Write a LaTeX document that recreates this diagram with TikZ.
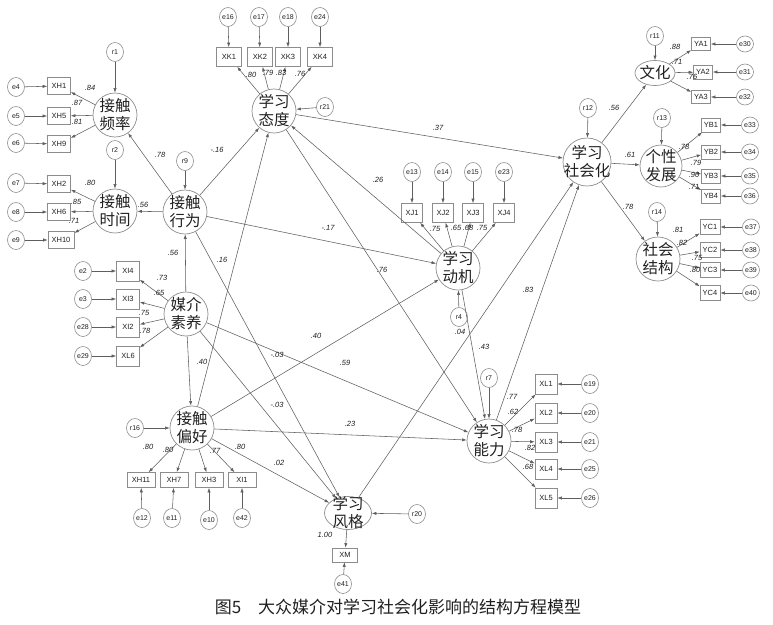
\documentclass[tikz,border=0pt]{standalone}
\usepackage{fontspec}
\setmainfont{Liberation Sans}
\newfontfamily\cjk{Noto Sans CJK SC}
\usetikzlibrary{arrows.meta,shapes.geometric}
\definecolor{ln}{HTML}{5E5E5E}
\definecolor{bd}{HTML}{8C8C8C}
\definecolor{tx}{HTML}{202020}
\begin{document}
\begin{tikzpicture}[x=1pt,y=-1pt,
  lat/.style={circle,draw=bd,line width=0.7pt,minimum size=44pt,inner sep=0pt},
  ltxt/.style={font=\cjk\fontsize{15.5}{18}\selectfont,align=center,text=tx,inner sep=0pt},
  err/.style={ellipse,draw=bd,line width=0.6pt,minimum width=17pt,minimum height=19pt,inner sep=0pt,font=\fontsize{7}{8}\selectfont,text=tx},
  errs/.style={err,minimum height=16pt},
  obs/.style={rectangle,draw=bd,line width=0.6pt,inner sep=0pt,font=\fontsize{7.5}{8}\selectfont,text=tx},
  arr/.style={draw=ln,line width=0.55pt,-{Latex[length=4.5pt,width=3.2pt]}},
  coef/.style={font=\itshape\fontsize{7.5}{8}\selectfont,text=tx,inner sep=0pt}]
\useasboundingbox (0,0) rectangle (773,624);

% latent variables
\node[lat,label={[ltxt]center:接触\\频率}] (pf) at (115,115) {};
\node[lat,label={[ltxt]center:接触\\时间}] (pt) at (115,211) {};
\node[lat,label={[ltxt]center:接触\\行为}] (pb) at (185,212) {};
\node[lat,label={[ltxt]center:媒介\\素养}] (ml) at (186,314) {};
\node[lat,label={[ltxt]center:接触\\偏好}] (pp) at (192,428) {};
\node[lat,label={[ltxt]center:学习\\态度}] (la) at (274,111) {};
\node[lat,label={[ltxt]center:学习\\动机}] (lm) at (458,268) {};
\node[lat,minimum size=48pt,label={[ltxt]center:学习\\社会化}] (ls) at (587,162) {};
\node[ellipse,draw=bd,line width=0.7pt,minimum width=40pt,minimum height=25pt,inner sep=0pt,label={[ltxt]center:文化}] (cu) at (655,73) {};
\node[lat,minimum size=42pt,label={[ltxt]center:个性\\发展}] (pd) at (661,166) {};
\node[lat,label={[ltxt]center:社会\\结构}] (ss) at (658,259) {};
\node[lat,label={[ltxt]center:学习\\能力}] (ab) at (489,441) {};
\node[ellipse,draw=bd,line width=0.7pt,minimum width=47pt,minimum height=33pt,inner sep=0pt,label={[ltxt]center:学习\\风格}] (st) at (348,513) {};

% error terms
\foreach \n/\x/\y in {e4/16/87,e5/16/116,e6/16/143,e7/16/183,e8/16/212,e9/16/240,
 e2/83/271,e3/83/299,e28/83/327,e29/83/356,
 e12/142/518,e11/172/518,e10/209/520,e42/242/518,
 e16/228/17,e17/259/17,e18/288/17,e24/320/17,
 e13/412/172,e14/443/172,e15/473/172,e23/504/172,
 e19/590/384,e20/590/413,e21/590/442,e25/590/469,e26/590/498,
 e41/343/584,
 r1/115/52,r2/115/150,r9/185/161,r21/325/107,r4/459/317,r7/489/378,
 r12/588/108,r11/655/36,r13/662/118,r14/657/212,r16/135/428,r20/417/514}
 {\node[err] (\n) at (\x,\y) {\n};}
\foreach \n/\x/\y in {e30/745/44,e31/745/72,e32/745/97,
 e33/750/125,e34/750/152,e35/750/176,e36/750/196,
 e37/751/227,e38/751/250,e39/751/270,e40/751/293}
 {\node[errs] (\n) at (\x,\y) {\n};}

% observed indicators
\foreach \n/\x/\y/\w/\h in {XH1/59/86/23/17,XH5/59/116/23/17,XH9/59/144/23/17,
 XH2/59/184/23/17,XH6/59/212/23/17,XH10/61/240/26/17,
 XI4/128/271/23/20,XI3/128/299/23/20,XI2/128/327/23/20,XL6/128/356/23/20,
 XH11/141/480/28/15,XH7/174/480/28/15,XH3/209/480/28/15,XI1/242/480/28/15,
 XK1/229/57/25/19,XK2/260/57/25/19,XK3/288/57/25/19,XK4/320/57/25/19,
 XJ1/412/213/21/19,XJ2/443/213/21/19,XJ3/473/213/21/19,XJ4/504/213/21/19,
 YA1/701/44/19/13,YA2/703/72/19/14,YA3/701/97/19/13,
 YB1/711/125/19/14,YB2/711/152/19/14,YB3/711/176/19/14,YB4/711/196/19/14,
 YC1/710/227/20/15,YC2/710/250/20/15,YC3/710/270/20/15,YC4/710/293/20/15,
 XL1/546/384/22/20,XL2/546/413/22/20,XL3/546/442/22/20,XL4/546/469/22/20,XL5/546/498/22/20,
 XM/345/555/25/14}
 {\node[obs,minimum width=\w pt,minimum height=\h pt] (\n) at (\x,\y) {\n};}

% error -> indicator, residual -> latent
\foreach \a/\b in {e4/XH1,e5/XH5,e6/XH9,e7/XH2,e8/XH6,e9/XH10,
 e2/XI4,e3/XI3,e28/XI2,e29/XL6,e12/XH11,e11/XH7,e10/XH3,e42/XI1,
 e16/XK1,e17/XK2,e18/XK3,e24/XK4,e13/XJ1,e14/XJ2,e15/XJ3,e23/XJ4,
 e30/YA1,e31/YA2,e32/YA3,e33/YB1,e34/YB2,e35/YB3,e36/YB4,
 e37/YC1,e38/YC2,e39/YC3,e40/YC4,e19/XL1,e20/XL2,e21/XL3,e25/XL4,e26/XL5,e41/XM,
 r1/pf,r2/pt,r9/pb,r21/la,r4/lm,r7/ab,r12/ls,r11/cu,r13/pd,r14/ss,r16/pp,r20/st}
 {\draw[arr] (\a) -- (\b);}

% loadings
\foreach \a/\b in {pf/XH1,pf/XH5,pf/XH9,pt/XH2,pt/XH6,pt/XH10,
 ml/XI4,ml/XI3,ml/XI2,ml/XL6,pp/XH11,pp/XH7,pp/XH3,pp/XI1,
 la/XK1,la/XK2,la/XK3,la/XK4,lm/XJ1,lm/XJ2,lm/XJ3,lm/XJ4,
 cu/YA1,cu/YA2,cu/YA3,pd/YB1,pd/YB2,pd/YB3,pd/YB4,
 ss/YC1,ss/YC2,ss/YC3,ss/YC4,ab/XL1,ab/XL2,ab/XL3,ab/XL4,ab/XL5,st/XM}
 {\draw[arr] (\a) -- (\b);}

% structural paths
\foreach \a/\b in {pb/pf,pb/pt,ml/pb,pb/la,pb/lm,pb/st,ml/st,ml/pp,ml/ab,
 pp/la,pp/lm,pp/ab,pp/st,la/ls,la/ab,lm/la,lm/ab,ab/ls,st/ls,ls/cu,ls/pd,ls/ss}
 {\draw[arr] (\a) -- (\b);}

% coefficients
\foreach \t/\x/\y [count=\i] in {.84/90/88,.87/77/103,.81/77/122,.80/90/183,.85/76/202,.71/74/221,
 .78/160/155,.56/143/205,.56/173/253,-.16/217/150,.16/222/260,
 .73/162/278,.65/159/293,.75/144/313,.78/145/331,.40/202/362,
 -.03/277/355,-.03/277/405,.40/316/336,.59/345/363,.23/350/424,.02/279/463,
 .80/148/447,.80/168/450,.77/215/451,.80/240/447,1.00/325/535,
 .80/251/75,.79/268/73,.83/281/73,.76/300/74,
 .37/438/128,.26/378/180,-.17/328/228,.76/382/270,
 .75/435/229,.65/456/228,.68/468/228,.75/482/228,
 .04/460/332,.43/484/347,.83/528/290,
 .56/614/108,.88/675/47,.71/677/62,.76/692/77,
 .61/630/155,.78/684/147,.79/696/163,.90/694/175,.71/694/187,
 .78/628/207,.81/678/230,.82/682/243,.75/697/258,.80/695/270,
 .77/512/397,.62/513/412,.78/517/430,.82/530/448,.68/528/467}
 {\node[coef] (c\i) at (\x,\y) {\t};}

% caption
\node[font=\cjk\fontsize{17}{17}\selectfont,text=tx] (cap) at (398,607) {图5　大众媒介对学习社会化影响的结构方程模型};
\end{tikzpicture}
\end{document}
